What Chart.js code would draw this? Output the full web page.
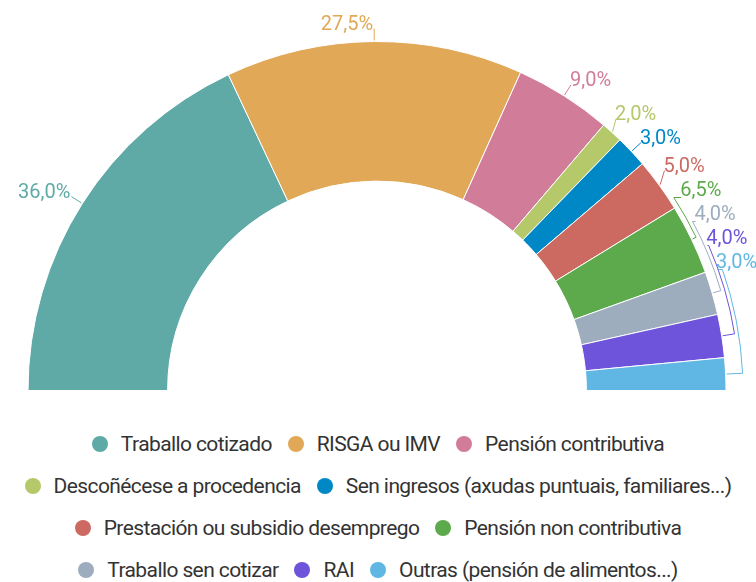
<!DOCTYPE html>
<html>
<head>
<meta charset="utf-8">
<script src="https://cdn.jsdelivr.net/npm/chart.js@4"></script>
<style>
  html, body { margin: 0; padding: 0; background: #fff; }
  #wrap { position: relative; width: 756px; height: 582px; overflow: hidden; }
  #chart { position: absolute; left: 0; top: 0; }
  #legend {
    position: absolute; left: 0; top: 432px; width: 756px;
    display: flex; flex-wrap: wrap; justify-content: center;
    row-gap: 18px; column-gap: 16px;
    font-family: Roboto, sans-serif; font-size: 21px; color: #333;
    letter-spacing: -0.6px;
  }
  .item { display: flex; align-items: center; white-space: nowrap; line-height: 24px; }
  .dot { width: 16px; height: 16px; border-radius: 50%; margin-right: 13px; }
</style>
</head>
<body>
<div id="wrap">
  <canvas id="chart" width="756" height="400"></canvas>
  <div id="legend"></div>
</div>
<script>
const categories = [
  'Traballo cotizado', 'RISGA ou IMV', 'Pensión contributiva',
  'Descoñécese a procedencia', 'Sen ingresos (axudas puntuais, familiares...)',
  'Prestación ou subsidio desemprego', 'Pensión non contributiva',
  'Traballo sen cotizar', 'RAI', 'Outras (pensión de alimentos...)'
];
const shares = [36.0, 27.5, 9.0, 2.0, 3.0, 5.0, 6.5, 4.0, 4.0, 3.0];
const colours = [
  '#5faaa6', '#e1a857', '#d17d99', '#b5c86a', '#0088c6',
  '#cc6a62', '#5caa4c', '#9dadbe', '#6e54da', '#60b7e3'
];

const fmt = v => v.toFixed(1).replace('.', ',') + '%';

// Labels sit just outside the ring. The small slices on the right get crowded, so they
// are stacked upwards from a bottom limit and linked back with a bracket along the arc.
const outsideLabels = {
  id: 'outsideLabels',
  afterDatasetsDraw(chart) {
    const c = chart.ctx;
    const arcs = chart.getDatasetMeta(0).data;
    const vals = chart.data.datasets[0].data;
    const cols = chart.data.datasets[0].backgroundColor;

    const spots = arcs.map((arc, i) => {
      const mid = (arc.startAngle + arc.endAngle) / 2;
      const r = arc.outerRadius + 13;
      return {
        i, mid, r, cx: arc.x, cy: arc.y, R: arc.outerRadius,
        x: arc.x + Math.cos(mid) * r, y: arc.y + Math.sin(mid) * r, shift: 0
      };
    });

    const right = spots.filter(s => Math.cos(s.mid) > 0);
    let limit = right.length ? right[0].cy - 124 : 0;
    for (let k = right.length - 1; k >= 0; k--) {
      const s = right[k];
      if (s.y > limit) {
        s.shift = s.y - limit;
        s.y = limit;
        s.x = s.cx + Math.sqrt(s.r * s.r - (s.cy - s.y) ** 2);
      }
      limit = s.y - 24;
    }

    c.save();
    c.font = '20px Roboto';
    c.lineWidth = 1;
    let k = 0;
    spots.forEach(s => {
      const col = cols[s.i];
      const onRight = Math.cos(s.mid) > 0;
      c.strokeStyle = col;
      c.fillStyle = col;
      c.beginPath();
      if (s.shift > 15) {
        const rk = s.R + 5 + 4 * k++;
        const yT = s.y + 3;
        const xk = s.cx + Math.sqrt(Math.max(rk * rk - (s.cy - yT) ** 2, 0));
        c.moveTo(s.x, yT);
        c.lineTo(xk, yT);
        c.arc(s.cx, s.cy, rk, Math.atan2(yT - s.cy, xk - s.cx), s.mid, false);
        c.lineTo(s.cx + Math.cos(s.mid) * (s.R + 1), s.cy + Math.sin(s.mid) * (s.R + 1));
      } else {
        c.moveTo(s.cx + Math.cos(s.mid) * (s.R + 1), s.cy + Math.sin(s.mid) * (s.R + 1));
        c.lineTo(s.x, s.y);
      }
      c.stroke();
      c.textBaseline = 'alphabetic';
      c.textAlign = onRight ? 'left' : 'right';
      c.fillText(fmt(vals[s.i]), s.x - 1, s.y + 1);
    });
    c.restore();
  }
};

new Chart(document.getElementById('chart').getContext('2d'), {
  type: 'doughnut',
  data: {
    labels: categories,
    datasets: [{
      data: shares,
      backgroundColor: colours,
      borderColor: '#ffffff',
      borderWidth: 1
    }]
  },
  options: {
    responsive: false,
    animation: false,
    rotation: -90,
    circumference: 180,
    cutout: '60%',
    layout: { padding: { left: 27, right: 29, top: 41, bottom: 9 } },
    plugins: {
      legend: { display: false },
      tooltip: { enabled: false }
    }
  },
  plugins: [outsideLabels]
});

const legend = document.getElementById('legend');
categories.forEach((name, i) => {
  const item = document.createElement('div');
  item.className = 'item';
  const dot = document.createElement('span');
  dot.className = 'dot';
  dot.style.background = colours[i];
  const txt = document.createElement('span');
  txt.textContent = name;
  item.appendChild(dot);
  item.appendChild(txt);
  legend.appendChild(item);
});
</script>
</body>
</html>
